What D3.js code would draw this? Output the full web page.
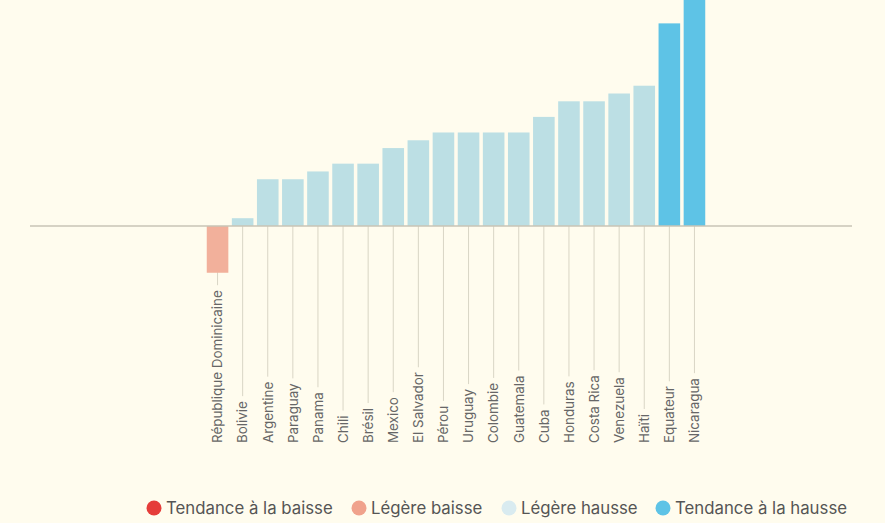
<!DOCTYPE html>
<html>
<head>
<meta charset="utf-8">
<script src="https://cdn.jsdelivr.net/npm/d3@7"></script>
<style>
  body { margin: 0; background: #fffcee; }
  svg { display: block; font-family: "Inter", "Roboto", sans-serif; }
</style>
</head>
<body>
<div id="vis"></div>
<script>
const WIDTH = 885;
const HEIGHT = 523;

// countries, sorted by change
const countries = ["République Dominicaine", "Bolivie", "Argentine", "Paraguay", "Panama",
  "Chili", "Brésil", "Mexico", "El Salvador", "Pérou", "Uruguay", "Colombie", "Guatemala",
  "Cuba", "Honduras", "Costa Rica", "Venezuela", "Haïti", "Equateur", "Nicaragua"];
const values = [-6, 1, 6, 6, 7, 8, 8, 10, 11, 12, 12, 12, 12, 14, 16, 16, 17, 18, 26, 29];
const trends = ["legere_baisse", "legere_hausse", "legere_hausse", "legere_hausse", "legere_hausse",
  "legere_hausse", "legere_hausse", "legere_hausse", "legere_hausse", "legere_hausse", "legere_hausse",
  "legere_hausse", "legere_hausse", "legere_hausse", "legere_hausse", "legere_hausse", "legere_hausse",
  "legere_hausse", "hausse", "hausse"];

const legendKeys = ["baisse", "legere_baisse", "legere_hausse", "hausse"];
const legendLabels = ["Tendance à la baisse", "Légère baisse", "Légère hausse", "Tendance à la hausse"];

const barColor = d3.scaleOrdinal()
  .domain(legendKeys)
  .range(["#e53d3a", "#f2b09b", "#bcdfe4", "#5ec3e6"]);
const dotColor = d3.scaleOrdinal()
  .domain(legendKeys)
  .range(["#e53d3a", "#f0a28c", "#d9ebf0", "#5ec3e6"]);

const svg = d3.select("#vis").append("svg")
  .attr("width", WIDTH)
  .attr("height", HEIGHT);

const x = d3.scaleBand()
  .domain(countries)
  .range([205, 707])
  .paddingInner(0.14)
  .paddingOuter(0.07);

const y = d3.scaleLinear()
  .domain([0, 29])
  .range([226, 0]);

const LABEL_BOTTOM = 443;

// label + leader line for each country
const labels = svg.append("g");
labels.selectAll("text")
  .data(countries)
  .join("text")
    .attr("transform", d => `translate(${x(d) + x.bandwidth() / 2},${LABEL_BOTTOM}) rotate(-90)`)
    .attr("dy", "0.36em")
    .attr("font-size", 13.4)
    .attr("fill", "#666")
    .text(d => d);

labels.selectAll("text").each(function(d) {
  const len = this.getComputedTextLength();
  labels.insert("line", "text")
    .attr("x1", x(d) + x.bandwidth() / 2)
    .attr("x2", x(d) + x.bandwidth() / 2)
    .attr("y1", y(0))
    .attr("y2", LABEL_BOTTOM - len - 5)
    .attr("stroke", "#d9d5c5")
    .attr("stroke-width", 1);
});

// bars
svg.append("g").selectAll("rect")
  .data(countries)
  .join("rect")
    .attr("x", d => x(d))
    .attr("width", x.bandwidth())
    .attr("y", (d, i) => Math.min(y(values[i]), y(0)))
    .attr("height", (d, i) => Math.abs(y(values[i]) - y(0)))
    .attr("fill", (d, i) => barColor(trends[i]));

// baseline
svg.append("line")
  .attr("x1", 30)
  .attr("x2", 852)
  .attr("y1", y(0))
  .attr("y2", y(0))
  .attr("stroke", "#c9c5b6")
  .attr("stroke-width", 1.5);

// legend
const legendX = [154, 359, 509, 663];
const legend = svg.append("g");
legendKeys.forEach((k, i) => {
  legend.append("circle")
    .attr("cx", legendX[i])
    .attr("cy", 508)
    .attr("r", 7.5)
    .attr("fill", dotColor(k));
  legend.append("text")
    .attr("x", legendX[i] + 12)
    .attr("y", 514)
    .attr("font-size", 16.8)
    .attr("fill", "#555")
    .text(legendLabels[i]);
});
</script>
</body>
</html>
